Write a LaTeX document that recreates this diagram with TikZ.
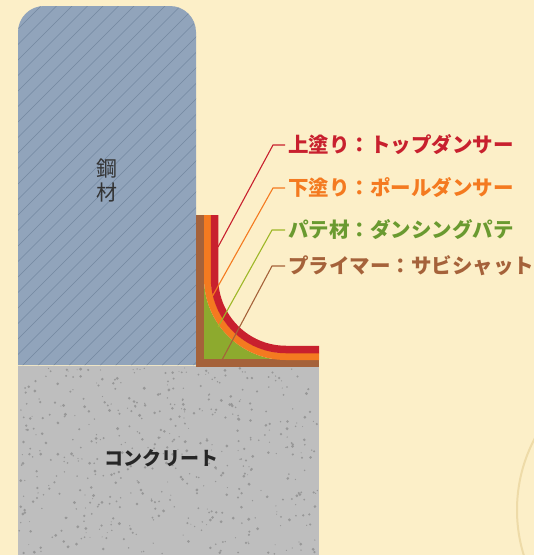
\documentclass[tikz,border=0pt]{standalone}
\usepackage{fontspec}
\newfontfamily\jpfont{Noto Sans CJK JP}
\definecolor{cream}{HTML}{FCEFC8}
\definecolor{ringline}{HTML}{EEDBA8}
\definecolor{steel}{HTML}{91A4BB}
\definecolor{hatch}{HTML}{7488A1}
\definecolor{concrete}{HTML}{BEBEBE}
\definecolor{grit}{HTML}{979797}
\definecolor{topcoat}{HTML}{C8202E}
\definecolor{undercoat}{HTML}{F47A20}
\definecolor{putty}{HTML}{8DAA2E}
\definecolor{puttytext}{HTML}{6A9A30}
\definecolor{primer}{HTML}{A5623A}

\begin{document}
\begin{tikzpicture}[x=1pt,y=-1pt,
    leader/.style={line width=1.1pt},
    coatlabel/.style={anchor=west,inner sep=3pt,font=\jpfont\bfseries\fontsize{20.5}{22}\selectfont}]
    \useasboundingbox (0,0) rectangle (534,555);
    \clip (0,0) rectangle (534,555);
    % background and the faint ring
    \fill[cream] (0,0) rectangle (534,555);
    \draw[ringline,line width=2pt] (670,510) circle (153);

    % steel with hatching
    \def\steelshape{(18,365) -- (18,32) arc[start angle=180,end angle=270,radius=26]
        -- (170,6) arc[start angle=270,end angle=360,radius=26] -- (196,365) -- cycle}
    \fill[steel] \steelshape;
    \begin{scope}
        \clip \steelshape;
        \foreach \i in {-350,-334.5,...,200}
            \draw[hatch,line width=0.6pt] (\i,366) -- ++(370,-370);
    \end{scope}
    \node[font=\jpfont\fontsize{21}{24}\selectfont,text=black!80,align=center] (steellbl) at (107,181) {鋼\\材};

    % concrete with grit
    \fill[concrete] (18,366) rectangle (319,555);
    \pgfmathsetseed{11}
    \foreach \k in {1,...,520}{
        \pgfmathsetmacro\gx{19+299*rnd}
        \pgfmathsetmacro\gy{368+186*rnd}
        \pgfmathsetmacro\gr{0.5+1.1*rnd}
        \fill[grit] (\gx,\gy) circle (\gr);
    }
    \node[font=\jpfont\bfseries\fontsize{19}{22}\selectfont,text=black!85] (conclbl) at (161,458) {コンクリート};

    % coating layers, bends share one centre
    \coordinate (bend) at (286,278);
    \fill[putty] (204,278) -- (204,360) -- (286,360) arc[start angle=90,end angle=180,radius=82] -- cycle;
    \draw[primer,line width=7.5pt] (199.75,215) -- (199.75,362.75) -- (319,362.75);
    \draw[undercoat,line width=7pt] (207.5,215) -- (207.5,278) arc[start angle=180,end angle=90,radius=78.5] -- (319,356.5);
    \draw[topcoat,line width=7.5pt] (214.5,215) -- (214.5,278) arc[start angle=180,end angle=90,radius=71.5] -- (319,349.5);

    % labels
    \node[coatlabel,text=topcoat] (toplbl) at (285,145) {上塗り：トップダンサー};
    \node[coatlabel,text=undercoat] (underlbl) at (285,188) {下塗り：ポールダンサー};
    \node[coatlabel,text=puttytext] (puttylbl) at (285,230) {パテ材：ダンシングパテ};
    \node[coatlabel,text=primer] (primerlbl) at (285,266) {プライマー：サビシャット};

    % leader lines
    \coordinate (topend) at (218,247);
    \coordinate (underend) at (212,297);
    \coordinate (puttyend) at (218,327);
    \coordinate (primerend) at (222,360);
    \draw[leader,topcoat] (topend) -- (273,145) -- (toplbl.west);
    \draw[leader,undercoat] (underend) -- (273,188) -- (underlbl.west);
    \draw[leader,putty!85!yellow] (puttyend) -- (272,230) -- (puttylbl.west);
    \draw[leader,primer] (primerend) -- (272,266) -- (primerlbl.west);
\end{tikzpicture}
\end{document}
